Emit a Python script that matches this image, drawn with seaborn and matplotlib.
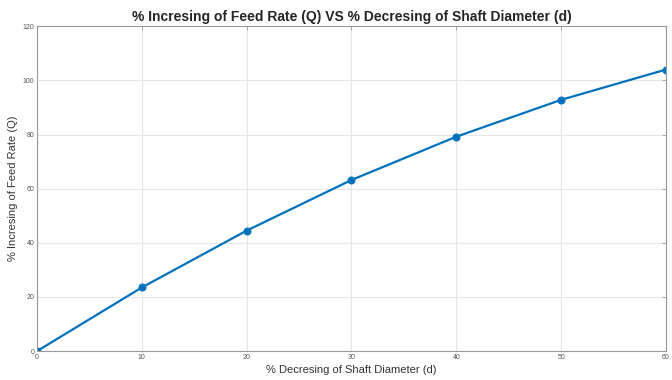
import matplotlib
matplotlib.use("Agg")
import matplotlib.pyplot as plt
import seaborn as sns
import pandas as pd

# data
shaft_decrease = [0, 10, 20, 30, 40, 50, 60]
feed_increase = [0, 23.5, 44.5, 63.2, 79.2, 92.8, 104.0]
x_ticks = [0, 10, 20, 30, 40, 50, 60]
y_ticks = [0, 20, 40, 60, 80, 100, 120]

df = pd.DataFrame({'d': shaft_decrease, 'Q': feed_increase})

sns.set_theme(style='white')
plt.rcParams['font.family'] = ['Liberation Sans', 'DejaVu Sans']

fig = plt.figure(figsize=(6.72, 3.8), dpi=100)
ax = fig.add_axes([0.055, 0.076, 0.936, 0.855])

sns.lineplot(data=df, x='d', y='Q', ax=ax, color='#0072BD', linewidth=1.6,
             marker='o', markersize=5, markeredgecolor='#0072BD')

ax.set_xlim(0, 60)
ax.set_ylim(0, 120)
ax.set_xticks(x_ticks)
ax.set_yticks(y_ticks)
ax.grid(True, color='#e6e6e6', linewidth=0.8)
ax.tick_params(direction='in', length=3, width=0.6, labelsize=5, color='#999999',
               labelcolor='#555555', pad=2, top=True, right=True)
for s in ax.spines.values():
    s.set_color('#999999')
    s.set_linewidth(0.8)

ax.set_xlabel('% Decresing of Shaft Diameter (d)', fontsize=8, color='#333333', labelpad=3)
ax.set_ylabel('% Incresing of Feed Rate (Q)', fontsize=8, color='#333333', labelpad=3)
ax.set_title('% Incresing of Feed Rate (Q) VS % Decresing of Shaft Diameter (d)',
             fontsize=10, fontweight='bold', pad=4)

fig.savefig('out.png', dpi=100)
